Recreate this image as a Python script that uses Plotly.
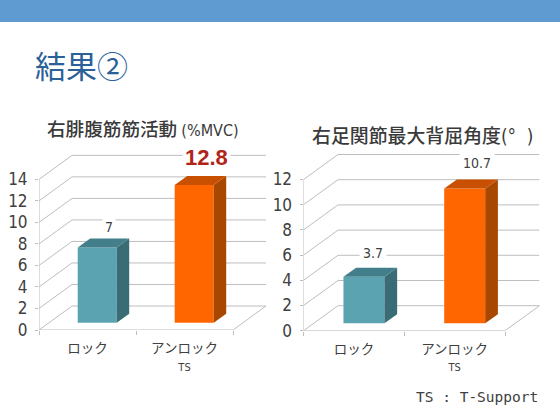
import plotly.graph_objects as go

W, H = 560, 420

CJK = "Noto Sans CJK JP"
NARROW = "DejaVu Sans Condensed, Noto Sans"

# ---- data
categories = ["ロック", f"アンロック<br><span style='font-size:11px;font-family:{NARROW}'>TS</span>"]
calf_values = [7, 12.8]
ankle_values = [3.7, 10.7]
calf_ticks = [0, 2, 4, 6, 8, 10, 12, 14]
ankle_ticks = [0, 2, 4, 6, 8, 10, 12]
calf_labels = ["7", "12.8"]
ankle_labels = ["3.7", "10.7"]

FRONT = ["#5BA3B1", "#FF6600"]
SIDE = ["#3A6C75", "#A84700"]
TOP = ["#437F8A", "#C85000"]
GRID = "#BEBEBE"

fig = go.Figure()
shapes, annots = [], []


def chart(idx, values, ticks, labels, x0, cat_w, y0, unit, depth, top_px, bar_w, lift_px, bd, label_specs):
    ax = "" if idx == 1 else str(idx)
    xr, yr = f"x{ax}", f"y{ax}"
    xmax = (2 * cat_w + depth[0]) / cat_w
    ymax = (y0 - top_px) / unit
    fig.update_layout({
        f"xaxis{ax}": dict(
            domain=[x0 / W, (x0 + 2 * cat_w + depth[0]) / W], range=[0, xmax], anchor=yr, automargin=False,
            tickmode="array", tickvals=[0.5, 1.5], ticktext=categories, ticks="outside", ticklen=0,
            tickfont=dict(family=CJK, size=13.5, color="#404040"), showgrid=False, zeroline=False, showline=False,
            ticklabelstandoff=6,
            minor=dict(tickmode="array", tickvals=[0, 1, 2], ticks="outside", ticklen=4, tickcolor=GRID, tickwidth=1, showgrid=False),
        ),
        f"yaxis{ax}": dict(
            domain=[1 - y0 / H, 1 - top_px / H], range=[0, ymax], anchor=xr, automargin=False,
            tickmode="array", tickvals=ticks, ticks="outside", ticklen=3, tickcolor=GRID, ticklabelstandoff=4,
            tickfont=dict(family=NARROW, size=17, color="#404040"), showgrid=False, zeroline=False, showline=False,
        ),
    })
    dx, dy = depth[0] / cat_w, depth[1] / unit
    line = dict(color=GRID, width=1)

    def seg(a, b, c, d, ln=line):
        shapes.append(dict(type="line", xref=xr, yref=yr, x0=a, y0=b, x1=c, y1=d, line=ln, layer="below"))

    for t in ticks:
        seg(0, t, dx, t + dy)
        seg(dx, t + dy, 2 + dx, t + dy)
    seg(0, 0, 0, ticks[-1])
    seg(0, 0, 2, 0)
    seg(2, 0, 2 + dx, dy)

    w = bar_w / cat_w
    bx, by = bd[0] / cat_w, bd[1] / unit
    lift = lift_px / unit
    for i, v in enumerate(values):
        c = i + 0.6
        fig.add_bar(x=[c], y=[v], base=[lift], width=[w], marker=dict(color=FRONT[i], line=dict(width=0)),
                    xaxis=xr, yaxis=yr, showlegend=False)
        r, l = c + w / 2, c - w / 2
        fig.add_scatter(x=[r, r + bx, r + bx, r, r], y=[lift, lift + by, lift + v + by, lift + v, lift],
                        fill="toself", fillcolor=SIDE[i], mode="none", xaxis=xr, yaxis=yr, showlegend=False)
        fig.add_scatter(x=[l, r, r + bx, l + bx, l], y=[lift + v, lift + v, lift + v + by, lift + v + by, lift + v],
                        fill="toself", fillcolor=TOP[i], mode="none", xaxis=xr, yaxis=yr, showlegend=False)
        sp = label_specs[i]
        annots.append(dict(xref=xr, yref=yr, x=c + sp["dx"], y=lift + v + sp["dy"], text=labels[i], showarrow=False,
                           font=sp["font"], bgcolor="white", borderpad=sp["pad"], xanchor="center", yanchor="middle"))


chart(1, calf_values, calf_ticks, calf_labels, 39, 97, 330, 10.76, (33, 24), 154, 39, 7.3, (12.5, 9),
      [dict(dx=0.12, dy=1.9, pad=2, font=dict(family=NARROW, size=14, color="#404040")),
       dict(dx=0.13, dy=2.55, pad=2, font=dict(family="Liberation Sans", size=22, color="#B0251A", weight="bold"))])
chart(2, ankle_values, ankle_ticks, ankle_labels, 303.5, 100.75, 330.7, 12.6, (34.5, 25), 153.3, 41, 7.4, (12.7, 9),
      [dict(dx=0.09, dy=1.85, pad=3, font=dict(family=NARROW, size=14, color="#404040")),
       dict(dx=0.12, dy=2.05, pad=3, font=dict(family=NARROW, size=14, color="#404040"))])

shapes.append(dict(type="rect", xref="paper", yref="paper", x0=0, x1=1, y0=1 - 22 / H, y1=1,
                   fillcolor="#5F9BD1", line=dict(width=0), layer="below"))


def text(x, y, s, size, color, family=CJK, anchor="center", weight=None):
    f = dict(family=family, size=size, color=color)
    if weight:
        f["weight"] = weight
    annots.append(dict(xref="paper", yref="paper", x=x / W, y=1 - y / H, text=s, showarrow=False,
                       font=f, xanchor=anchor, yanchor="middle", xshift=-2 if anchor == "left" else 0))


text(35, 64, "結果②", 31, "#2B6198", anchor="left")
text(47, 127, f"右腓腹筋筋活動 <span style='font-family:{NARROW};font-size:16px'>(%MVC)</span>", 18.6, "#3A3A3A", anchor="left", weight=500)
text(312, 134, f"右足関節最大背屈角度<span style='font-family:{NARROW}'>(°  )</span>", 18.9, "#3A3A3A", anchor="left", weight=500)
text(477, 397, "TS : T-Support", 14.5, "#404040", family="DejaVu Sans Mono")

fig.update_layout(width=W, height=H, margin=dict(l=0, r=0, t=0, b=0), autosize=False,
                  paper_bgcolor="white", plot_bgcolor="rgba(0,0,0,0)", barmode="overlay",
                  showlegend=False, shapes=shapes, annotations=annots)
fig.write_html("out.html", config=dict(displayModeBar=False),
               post_script="document.body.style.margin='0';document.body.style.overflow='hidden';")
